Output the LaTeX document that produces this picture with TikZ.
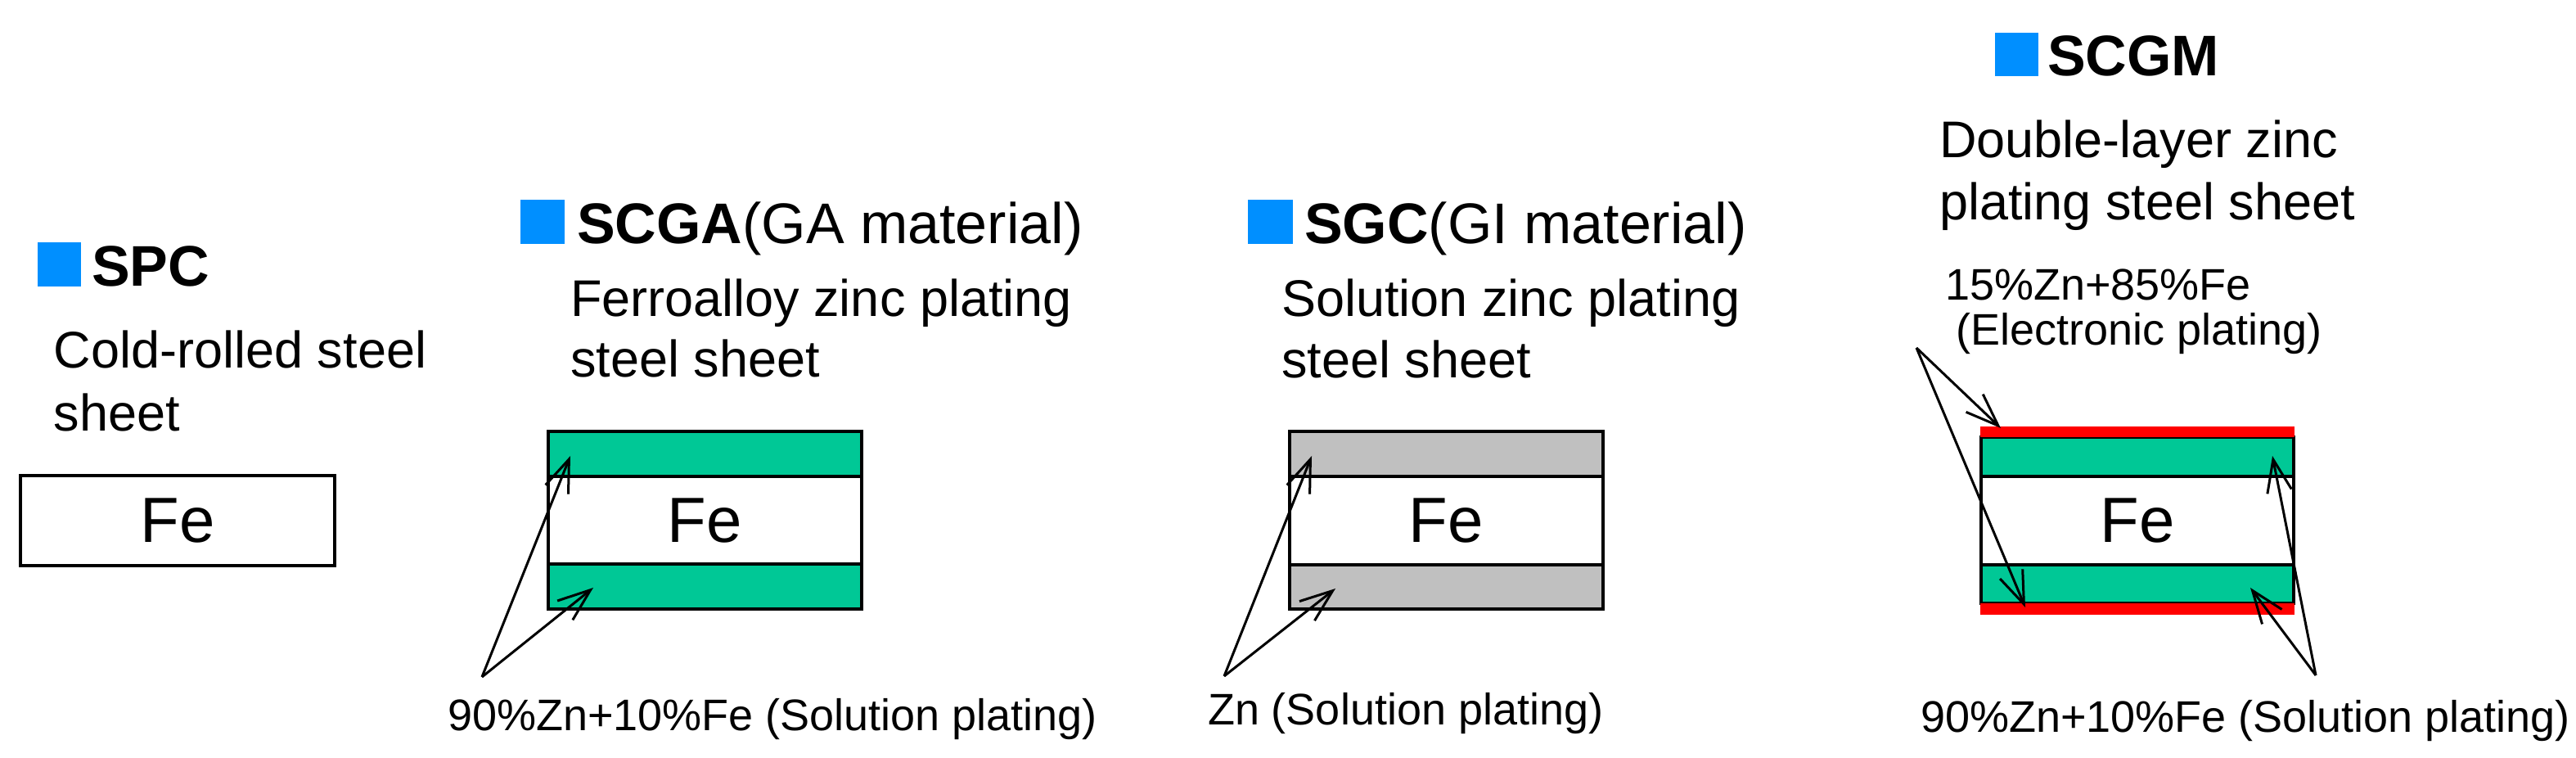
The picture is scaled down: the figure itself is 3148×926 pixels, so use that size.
\documentclass[tikz,border=0pt]{standalone}
\usepackage{fontspec}
\setmainfont{Liberation Sans}
\usetikzlibrary{arrows.meta}
\definecolor{sqblue}{RGB}{0,143,255}
\definecolor{zngreen}{RGB}{0,200,150}
\definecolor{zngray}{RGB}{192,192,192}
\definecolor{znred}{RGB}{255,0,0}
\tikzset{
  txt/.style={anchor=base west, inner sep=0pt, outer sep=0pt},
  headtxt/.style={txt, font=\fontsize{21}{25}\selectfont},
  bodytxt/.style={txt, font=\fontsize{18.9}{22.7}\selectfont},
  smalltxt/.style={txt, font=\fontsize{16.2}{19}\selectfont},
  fetxt/.style={inner sep=0pt, font=\fontsize{23.4}{28}\selectfont},
  bluesq/.style={fill=sqblue, draw=none},
  layer/.style={draw=black, line width=1pt},
  arr/.style={line width=0.9pt, -{Straight Barb[length=12pt,width=9pt]}}
}
\begin{document}
\begin{tikzpicture}[x=0.3pt,y=-0.3pt]
\useasboundingbox (0,0) rectangle (3148,926);

% ---------- SPC ----------
\fill[bluesq] (46,296) rectangle (99,350);
\node[headtxt] (spcH) at (112,350) {\textbf{SPC}};
\node[bodytxt] (spcL1) at (66,450) {Cold-rolled steel};
\node[bodytxt] (spcL2) at (66,527) {sheet};
\draw[layer, fill=white] (25,581) rectangle (409,691);
\node[fetxt] (spcFe) at (217,636) {Fe};

% ---------- SCGA ----------
\fill[bluesq] (636,244) rectangle (690,298);
\node[headtxt] (scgaH) at (705,298) {\textbf{SCGA}(GA material)};
\node[bodytxt] (scgaL1) at (697,387) {Ferroalloy zinc plating};
\node[bodytxt] (scgaL2) at (697,461) {steel sheet};
\draw[layer, fill=zngreen] (670,527) rectangle (1053,582);
\draw[layer, fill=white] (670,582) rectangle (1053,689);
\draw[layer, fill=zngreen] (670,689) rectangle (1053,744);
\node[fetxt] (scgaFe) at (861,636) {Fe};
\coordinate (scgaO) at (589,827);
\coordinate (scgaT1) at (697,557);
\coordinate (scgaT2) at (725,718);
\draw[arr] (scgaO) -- (scgaT1);
\draw[arr] (scgaO) -- (scgaT2);
\node[smalltxt] (scgaLab) at (547,893) {90\%Zn+10\%Fe (Solution plating)};

% ---------- SGC ----------
\fill[bluesq] (1525,244) rectangle (1580,298);
\node[headtxt] (sgcH) at (1594,298) {\textbf{SGC}(GI material)};
\node[bodytxt] (sgcL1) at (1566,387) {Solution zinc plating};
\node[bodytxt] (sgcL2) at (1566,462) {steel sheet};
\draw[layer, fill=zngray] (1576,527) rectangle (1959,582);
\draw[layer, fill=white] (1576,582) rectangle (1959,690);
\draw[layer, fill=zngray] (1576,690) rectangle (1959,744);
\node[fetxt] (sgcFe) at (1767,636) {Fe};
\coordinate (sgcO) at (1496,826);
\coordinate (sgcT1) at (1603,557);
\coordinate (sgcT2) at (1632,719);
\draw[arr] (sgcO) -- (sgcT1);
\draw[arr] (sgcO) -- (sgcT2);
\node[smalltxt] (sgcLab) at (1476,886) {Zn (Solution plating)};

% ---------- SCGM ----------
\fill[bluesq] (2438,40) rectangle (2491,93);
\node[headtxt] (scgmH) at (2502,93) {\textbf{SCGM}};
\node[bodytxt] (scgmL1) at (2370,193) {Double-layer zinc};
\node[bodytxt] (scgmL2) at (2370,269) {plating steel sheet};
\node[smalltxt] (scgmE1) at (2377,367) {15\%Zn+85\%Fe};
\node[smalltxt] (scgmE2) at (2390,422) {(Electronic plating)};
\draw[layer, fill=zngreen] (2421,534) rectangle (2803,582);
\draw[layer, fill=white] (2421,582) rectangle (2803,690);
\draw[layer, fill=zngreen] (2421,690) rectangle (2803,737);
\fill[znred] (2420,521) rectangle (2804,534);
\fill[znred] (2420,737) rectangle (2804,751);
\node[fetxt] (scgmFe) at (2612,636) {Fe};
\coordinate (scgmOL) at (2342,425);
\coordinate (scgmTL1) at (2445,523);
\coordinate (scgmTL2) at (2475,742);
\coordinate (scgmOR) at (2830,825);
\coordinate (scgmTR1) at (2777,557);
\coordinate (scgmTR2) at (2750,718);
\draw[arr] (scgmOL) -- (scgmTL1);
\draw[arr] (scgmOL) -- (scgmTL2);
\draw[arr] (scgmOR) -- (scgmTR1);
\draw[arr] (scgmOR) -- (scgmTR2);
\node[smalltxt] (scgmLab) at (2347,895) {90\%Zn+10\%Fe (Solution plating)};
\end{tikzpicture}
\end{document}
